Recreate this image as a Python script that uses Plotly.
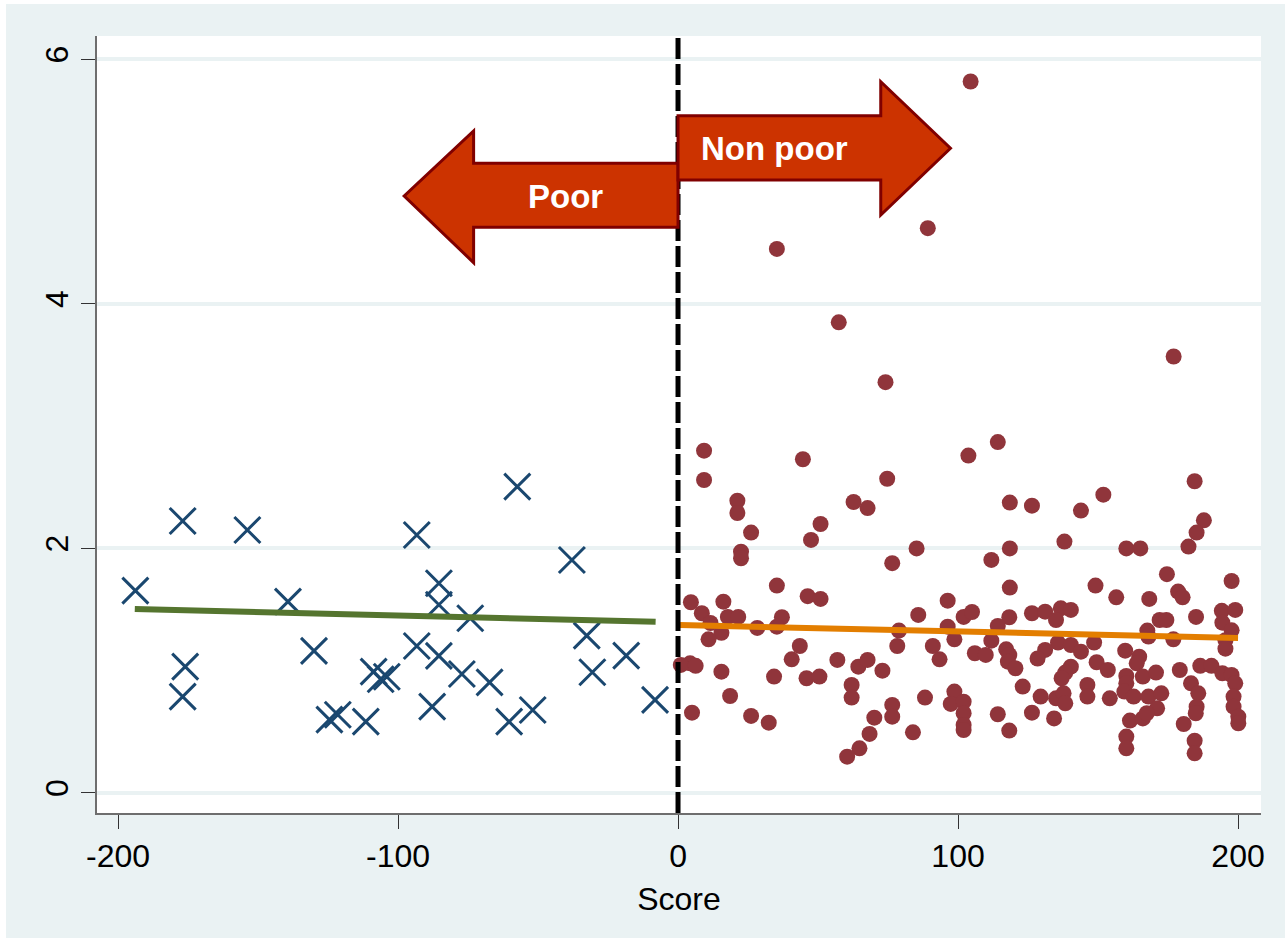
import plotly.graph_objects as go

# ---------------- data ----------------
poor_x = [-193.8, -176.9, -176.0, -176.9, -153.8, -139.3, -130.0, -124.5, -121.5, -111.5,
          -108.7, -106.2, -104.0, -93.3, -93.3, -85.4, -85.4, -85.4, -87.8, -74.2,
          -77.2, -67.3, -57.4, -60.3, -51.9, -37.9, -32.6, -30.6, -18.5, -8.2]
poor_y = [1.655, 2.225, 1.033, 0.788, 2.151, 1.565, 1.162, 0.60, 0.64, 0.583,
          0.992, 0.93, 0.951, 2.11, 1.202, 1.715, 1.54, 1.121, 0.706, 1.429,
          0.973, 0.905, 2.506, 0.583, 0.679, 1.906, 1.287, 0.987, 1.123, 0.761]

nonpoor_x = [104.5, 89.2, 35.3, 57.4, 74.1, 177.0,
             9.3, 9.3, 44.6, 114.2, 103.7, 74.7, 184.5, 21.2, 21.2, 62.7, 67.7, 118.5, 126.4, 151.9,
             143.9, 187.8, 185.2, 26.1, 50.9, 47.5, 22.5, 22.5, 85.2, 118.5, 138.0, 160.1, 165.1, 182.3,
             76.5, 111.9, 174.6, 149.1, 197.7, 118.5, 35.3, 4.6, 16.2, 46.3, 50.9, 96.3, 156.5, 168.3,
             178.6, 180.2, 8.5, 17.8, 21.5, 11.6, 15.5, 28.3, 37.1, 35.3, 85.8, 102.0, 105.0, 126.4,
             131.1, 136.7, 140.3, 135.0, 118.3, 114.2, 172.0, 174.4, 185.0, 194.2, 199.0, 194.4, 197.7,
             96.3, 78.9, 167.6, 168.0,
             10.9, 98.7, 176.9, 195.5, 195.5, 78.3, 43.5, 91.0, 111.9, 148.6, 135.7, 140.3, 143.9, 131.1,
             128.4, 117.2, 118.3, 106.0, 109.9, 159.7, 164.7, 4.3, 1.0, 6.3, 40.6, 56.9, 64.4, 67.7, 73.0,
             93.4, 149.5, 153.5, 117.8, 120.5, 163.8, 166.0, 170.7, 179.2, 186.5, 190.5, 194.4, 197.7,
             199.0, 140.3, 138.3, 137.0, 160.1, 160.1, 183.2, 15.5, 34.3, 45.9, 50.5, 18.6, 62.0, 62.0,
             88.2, 98.7, 97.4, 102.0, 102.0, 102.0, 102.0, 76.5, 76.5, 123.1, 129.5, 135.0, 137.7, 138.3,
             146.2, 146.2, 154.2, 159.4, 162.7, 168.0, 172.6, 171.1, 185.8, 185.2, 184.9, 198.4, 198.4,
             200.1, 200.1, 5.0, 26.1, 32.4, 70.1, 68.4, 64.8, 60.4, 83.9, 114.2, 118.3, 126.4, 134.3,
             161.4, 166.0, 167.4, 180.6, 160.1, 160.1, 184.5, 184.5]
nonpoor_y = [5.82, 4.62, 4.45, 3.85, 3.36, 3.57,
             2.80, 2.56, 2.73, 2.87, 2.76, 2.57, 2.55, 2.39, 2.29, 2.38, 2.33, 2.375, 2.35, 2.44,
             2.31, 2.23, 2.13, 2.13, 2.20, 2.07, 1.974, 1.92, 2.00, 2.00, 2.056, 2.00, 2.00, 2.015,
             1.88, 1.906, 1.79, 1.696, 1.734, 1.68, 1.696, 1.56, 1.565, 1.61, 1.587, 1.573, 1.60, 1.587,
             1.647, 1.60, 1.47, 1.44, 1.44, 1.39, 1.31, 1.35, 1.437, 1.36, 1.456, 1.44, 1.48, 1.47,
             1.483, 1.51, 1.497, 1.415, 1.437, 1.366, 1.415, 1.415, 1.44, 1.49, 1.497, 1.393, 1.33,
             1.36, 1.328, 1.328, 1.28,
             1.257, 1.257, 1.257, 1.25, 1.18, 1.202, 1.202, 1.202, 1.246, 1.23, 1.23, 1.21, 1.156, 1.17,
             1.10, 1.175, 1.129, 1.143, 1.129, 1.164, 1.115, 1.06, 1.047, 1.04, 1.093, 1.088, 1.033, 1.088, 1.00,
             1.093, 1.069, 1.006, 1.074, 1.02, 1.06, 0.952, 0.985, 1.006, 1.04, 1.04, 0.979, 0.965,
             0.897, 1.033, 0.985, 0.938, 0.957, 0.897, 0.897, 0.992, 0.952, 0.938, 0.952, 0.793, 0.883, 0.78,
             0.78, 0.829, 0.728, 0.747, 0.652, 0.556, 0.515, 0.72, 0.624, 0.87, 0.788, 0.774, 0.815, 0.733,
             0.883, 0.788, 0.774, 0.829, 0.788, 0.788, 0.815, 0.692, 0.815, 0.706, 0.652, 0.788, 0.706,
             0.624, 0.57, 0.657, 0.63, 0.575, 0.616, 0.483, 0.365, 0.297, 0.496, 0.644, 0.51, 0.657, 0.61,
             0.592, 0.61, 0.652, 0.564, 0.461, 0.365, 0.428, 0.324]

poor_fit_x = [-194.0, -8.0]
poor_fit_y = [1.505, 1.400]
nonpoor_fit_x = [0.7, 200.0]
nonpoor_fit_y = [1.374, 1.268]

cutoff = 0
x_ticks = [-200, -100, 0, 100, 200]
y_ticks = [0, 2, 4, 6]
x_range = [-207.5, 208.2]
y_range = [-0.164, 6.192]

# ---------------- figure ----------------
FONT = "Arial, 'Liberation Sans', Helvetica, sans-serif"
BG = "#EAF2F3"
W, H = 1285, 938
ML, MR, MT, MB = 97, 24, 36, 125

fig = go.Figure()

fig.add_trace(go.Scatter(
    x=nonpoor_x, y=nonpoor_y, mode="markers",
    marker=dict(symbol="circle", size=16, color="#90353B", line=dict(width=0)),
    showlegend=False, hoverinfo="skip"))

fig.add_trace(go.Scatter(
    x=poor_x, y=poor_y, mode="markers",
    marker=dict(symbol="x-thin", size=26, color="#1A476F",
                line=dict(width=3, color="#1A476F")),
    showlegend=False, hoverinfo="skip"))

fig.add_trace(go.Scatter(
    x=poor_fit_x, y=poor_fit_y, mode="lines",
    line=dict(color="#55752F", width=6), showlegend=False, hoverinfo="skip"))

fig.add_trace(go.Scatter(
    x=nonpoor_fit_x, y=nonpoor_fit_y, mode="lines",
    line=dict(color="#E37E00", width=6), showlegend=False, hoverinfo="skip"))

# arrows (annotation shapes in data coordinates)
left_arrow = [(0, 5.151), (-73.0, 5.151), (-73.0, 5.415), (-97.8, 4.883),
              (-73.0, 4.338), (-73.0, 4.627), (0, 4.627)]
right_arrow = [(0, 5.540), (72.4, 5.540), (72.4, 5.818), (97.3, 5.274),
               (72.4, 4.728), (72.4, 5.014), (0, 5.014)]


def poly_path(pts):
    return "M " + " L ".join(f"{a},{b}" for a, b in pts) + " Z"


for pts in (left_arrow, right_arrow):
    fig.add_shape(type="path", path=poly_path(pts), xref="x", yref="y",
                  fillcolor="#CC3300", line=dict(color="#800000", width=3), layer="above")

# cutoff dashed line
fig.add_trace(go.Scatter(
    x=[cutoff, cutoff], y=[y_range[0], y_range[1]], mode="lines",
    line=dict(color="black", width=5, dash="21px,5px"),
    showlegend=False, hoverinfo="skip"))

fig.add_annotation(x=-40.2, y=4.883, text="<b>Poor</b>", showarrow=False,
                   font=dict(family=FONT, size=33, color="white"))
fig.add_annotation(x=34.5, y=5.274, text="<b>Non poor</b>", showarrow=False,
                   font=dict(family=FONT, size=33, color="white"))

# thin white strips along the top and left edges of the image
plot_w = W - ML - MR
plot_h = H - MT - MB
fig.add_shape(type="rect", xref="paper", yref="paper",
              x0=(-5 - ML) / plot_w, x1=(6 - ML) / plot_w,
              y0=(H - MB - (H + 5)) / plot_h, y1=(H - MB + 5) / plot_h,
              fillcolor="white", line=dict(width=0), layer="above")
fig.add_shape(type="rect", xref="paper", yref="paper",
              x0=(-5 - ML) / plot_w, x1=(W + 5 - ML) / plot_w,
              y0=(H - MB - 4) / plot_h, y1=(H - MB + 5) / plot_h,
              fillcolor="white", line=dict(width=0), layer="above")

fig.update_layout(
    width=W, height=H,
    margin=dict(l=ML, r=MR, t=MT, b=MB, pad=0),
    paper_bgcolor=BG,
    plot_bgcolor="white",
    font=dict(family=FONT, size=32, color="black"),
    showlegend=False,
    xaxis=dict(
        range=x_range, tickvals=x_ticks, ticktext=[str(v) for v in x_ticks],
        showgrid=False, zeroline=False,
        showline=True, linecolor="#6E6E6E", linewidth=1.5,
        ticks="outside", ticklen=14, tickwidth=1, tickcolor="#333333",
        tickfont=dict(family=FONT, size=32, color="black"),
        ticklabelstandoff=0,
        title=dict(text="Score", font=dict(family=FONT, size=32, color="black"), standoff=14),
    ),
    yaxis=dict(
        range=y_range, tickvals=y_ticks, ticktext=[str(v) for v in y_ticks],
        showgrid=True, gridcolor=BG, gridwidth=3.5, zeroline=False,
        showline=True, linecolor="#6E6E6E", linewidth=1.5,
        ticks="outside", ticklen=14, tickwidth=1, tickcolor="#333333",
        tickangle=-90,
        tickfont=dict(family=FONT, size=32, color="black"),
        ticklabelstandoff=0,
    ),
)

fig.write_html("out.html", config={"displayModeBar": False},
               post_script="document.body.style.margin='0px';document.body.style.overflow='hidden';")
